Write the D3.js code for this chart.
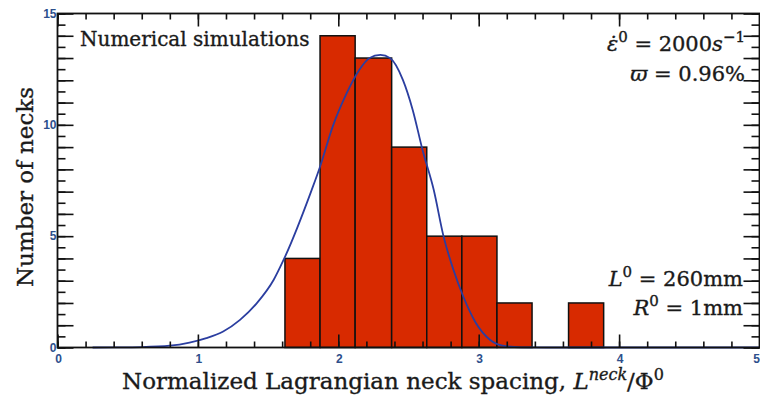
<!DOCTYPE html>
<html>
<head>
<meta charset="utf-8">
<script src="https://cdn.jsdelivr.net/npm/d3@7"></script>
<style>
  body { margin: 0; background: #fff; }
  .ticklab { font-family: "Liberation Sans", Arial, sans-serif; font-weight: bold; font-size: 12px; fill: #2d4f8c; }
  .serif { font-family: "DejaVu Serif", serif; font-size: 21px; fill: #1a1a1a; stroke: #1a1a1a; stroke-width: 0.35px; }
</style>
</head>
<body>
<div id="chart"></div>
<script>
// histogram bins (left edges .. right edge) and counts
var binEdges = [1.62, 1.87, 2.12, 2.38, 2.63, 2.88, 3.13, 3.38, 3.64, 3.89];
var counts = [4, 14, 13, 9, 5, 5, 2, 0, 2];

// fitted curve, points
var curveX = [0.25, 0.4, 0.6, 0.8, 0.94, 1.06, 1.18, 1.30, 1.42, 1.54, 1.61, 1.81, 1.87, 1.96, 2.06, 2.15, 2.22, 2.30, 2.37, 2.46, 2.53, 2.60, 2.68, 2.75, 2.82, 2.89, 2.98, 3.08, 3.17, 3.3, 3.5, 5];
var curveY = [0, 0.005, 0.02, 0.08, 0.22, 0.42, 0.72, 1.24, 1.99, 3.04, 3.93, 7.07, 8.12, 9.92, 11.42, 12.47, 12.99, 13.14, 12.99, 12.02, 10.67, 8.87, 7.07, 4.98, 3.49, 2.29, 1.10, 0.35, 0.08, 0.01, 0, 0];

var xTicks = [0, 1, 2, 3, 4, 5];
var yTicks = [0, 5, 10, 15];

var width = 760, height = 398;
var svg = d3.select("#chart").append("svg")
    .attr("width", width)
    .attr("height", height);

var x = d3.scaleLinear().domain([0, 5]).range([57.5, 759.5]);
var y = d3.scaleLinear().domain([0, 15]).range([347.5, 13.5]);

// bars
var bars = counts.map(function(c, i) { return {x0: binEdges[i], x1: binEdges[i + 1], n: c}; })
    .filter(function(d) { return d.n > 0; });

svg.append("g").selectAll("rect")
    .data(bars)
    .enter().append("rect")
    .attr("x", function(d) { return x(d.x0); })
    .attr("width", function(d) { return x(d.x1) - x(d.x0); })
    .attr("y", function(d) { return y(d.n); })
    .attr("height", function(d) { return y(0) - y(d.n); })
    .style("fill", "#d82a00")
    .style("stroke", "#111")
    .style("stroke-width", 1.5);

// curve
var line = d3.line()
    .x(function(d) { return x(d[0]); })
    .y(function(d) { return y(d[1]); })
    .curve(d3.curveMonotoneX);

svg.append("path")
    .datum(curveX.map(function(v, i) { return [v, curveY[i]]; }))
    .attr("d", line)
    .style("fill", "none")
    .style("stroke", "#2b3ea0")
    .style("stroke-width", 1.8);

// axes: ticks pointing inwards on all four sides
var xMinor = d3.range(0, 26).map(function(i) { return i / 5; });
var yMinor = d3.range(0, 31).map(function(i) { return i / 2; });
var yInt = d3.range(0, 16);

function styleAxis(g) {
    g.select(".domain").remove();
    g.selectAll("line").style("stroke", "#111").style("stroke-width", 1.6);
}

svg.append("g").attr("transform", "translate(0," + y(0) + ")")
    .call(d3.axisBottom(x).tickValues(xMinor).tickSize(-6).tickFormat(""))
    .call(styleAxis);
svg.append("g").attr("transform", "translate(0," + y(0) + ")")
    .call(d3.axisBottom(x).tickValues(xTicks).tickSize(-13).tickFormat(""))
    .call(styleAxis);
svg.append("g").attr("transform", "translate(0," + y(15) + ")")
    .call(d3.axisTop(x).tickValues(xMinor).tickSize(-6).tickFormat(""))
    .call(styleAxis);
svg.append("g").attr("transform", "translate(0," + y(15) + ")")
    .call(d3.axisTop(x).tickValues(xTicks).tickSize(-13).tickFormat(""))
    .call(styleAxis);

svg.append("g").attr("transform", "translate(" + x(0) + ",0)")
    .call(d3.axisLeft(y).tickValues(yMinor).tickSize(-8).tickFormat(""))
    .call(styleAxis);
svg.append("g").attr("transform", "translate(" + x(0) + ",0)")
    .call(d3.axisLeft(y).tickValues(yInt).tickSize(-16).tickFormat(""))
    .call(styleAxis);
svg.append("g").attr("transform", "translate(" + x(5) + ",0)")
    .call(d3.axisRight(y).tickValues(yMinor).tickSize(-8).tickFormat(""))
    .call(styleAxis);
svg.append("g").attr("transform", "translate(" + x(5) + ",0)")
    .call(d3.axisRight(y).tickValues(yInt).tickSize(-16).tickFormat(""))
    .call(styleAxis);

// frame
svg.append("rect")
    .attr("x", x(0)).attr("y", y(15))
    .attr("width", x(5) - x(0)).attr("height", y(0) - y(15))
    .style("fill", "none").style("stroke", "#111").style("stroke-width", 1.8);

// tick labels
svg.append("g").selectAll("text")
    .data(xTicks)
    .enter().append("text")
    .attr("class", "ticklab")
    .attr("x", function(d) { return d === 5 ? width : x(d) + 1; })
    .attr("y", y(0) + 15)
    .attr("text-anchor", function(d) { return d === 5 ? "end" : "middle"; })
    .text(function(d) { return d; });

svg.append("g").selectAll("text")
    .data(yTicks)
    .enter().append("text")
    .attr("class", "ticklab")
    .attr("x", x(0) - 1)
    .attr("y", function(d) { return y(d) + 4; })
    .attr("text-anchor", "end")
    .text(function(d) { return d; });

// axis titles
svg.append("text")
    .attr("class", "serif")
    .style("font-size", "23px")
    .attr("transform", "translate(33," + 187 + ") rotate(-90)")
    .attr("text-anchor", "middle")
    .text("Number of necks");

var xt = svg.append("text")
    .attr("class", "serif")
    .style("font-size", "23px")
    .attr("x", 393).attr("y", 389)
    .attr("text-anchor", "middle");
xt.append("tspan").text("Normalized Lagrangian neck spacing, ");
xt.append("tspan").style("font-style", "italic").text("L");
xt.append("tspan").style("font-style", "italic").style("font-size", "16px").attr("dy", -9).text("neck");
xt.append("tspan").attr("dy", 9).text("/Φ");
xt.append("tspan").style("font-size", "16px").attr("dy", -9).text("0");

// annotations
svg.append("text")
    .attr("class", "serif")
    .style("font-size", "20px")
    .attr("x", 80).attr("y", 46)
    .text("Numerical simulations");

function mathLabel(xp, yp, parts) {
    var t = svg.append("text").attr("class", "serif")
        .attr("x", xp).attr("y", yp)
        .attr("text-anchor", "end");
    parts.forEach(function(p) {
        var s = t.append("tspan").text(p.t);
        if (p.i) s.style("font-style", "italic");
        if (p.sup) s.style("font-size", "15px").attr("dy", -9);
        if (p.down) s.attr("dy", 9);
    });
}

mathLabel(745, 51, [{t: "ε̇", i: 1}, {t: "0", sup: 1}, {t: " = 2000", down: 1}, {t: "s", i: 1}, {t: "−1", sup: 1}]);
mathLabel(745, 81, [{t: "ϖ", i: 1}, {t: " = 0.96%"}]);
mathLabel(743, 286, [{t: "L", i: 1}, {t: "0", sup: 1}, {t: " = 260mm", down: 1}]);
mathLabel(743, 315, [{t: "R", i: 1}, {t: "0", sup: 1}, {t: " = 1mm", down: 1}]);
</script>
</body>
</html>
